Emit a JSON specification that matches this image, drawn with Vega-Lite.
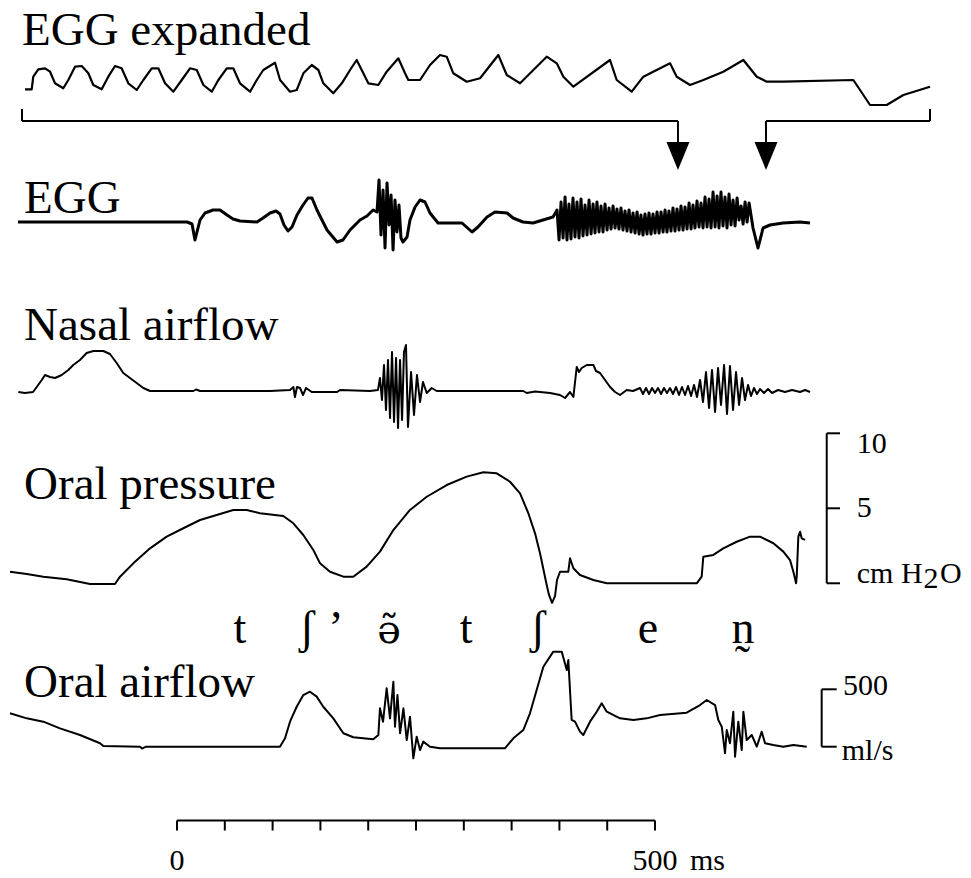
{
"$schema": "https://vega.github.io/schema/vega-lite/v6.json",
"width": 971, "height": 878,
"autosize": {"type": "fit", "contains": "padding"},
"padding": 0,
"background": "white",
"config": {"view": {"stroke": null}, "text": {"font": "Liberation Serif", "color": "black", "baseline": "alphabetic"}, "line": {"color": "black", "strokeJoin": "round"}, "rule": {"color": "black", "strokeWidth": 2}},
"datasets": {
"egge_line": [{"t":524.3,"v":-0.93},{"t":524.98,"v":-0.93},{"t":525.14,"v":0.33},{"t":525.65,"v":1.07},{"t":526.33,"v":1.17},{"t":526.84,"v":0.83},{"t":527.34,"v":-0.33},{"t":528.18,"v":-0.83},{"t":528.69,"v":0},{"t":529.37,"v":1.33},{"t":530.05,"v":1.4},{"t":530.72,"v":0.67},{"t":531.22,"v":-0.5},{"t":532.07,"v":-0.93},{"t":532.74,"v":0.33},{"t":533.42,"v":1.4},{"t":534.09,"v":1.17},{"t":534.77,"v":-0.33},{"t":535.62,"v":-1.0},{"t":536.29,"v":0},{"t":537.14,"v":1.17},{"t":537.81,"v":1.17},{"t":538.49,"v":-0.33},{"t":539.33,"v":-1.17},{"t":540.18,"v":0},{"t":541.02,"v":1.17},{"t":541.7,"v":1.0},{"t":542.37,"v":-0.5},{"t":543.22,"v":-1.17},{"t":543.89,"v":0},{"t":544.74,"v":1.17},{"t":545.4,"v":1.17},{"t":546.08,"v":-0.33},{"t":547.1,"v":-1.17},{"t":547.78,"v":0},{"t":548.44,"v":1.0},{"t":549.63,"v":1.73},{"t":550.14,"v":0},{"t":551.15,"v":-1.17},{"t":551.83,"v":-1.0},{"t":552.5,"v":0.67},{"t":553.35,"v":1.5},{"t":554.02,"v":1.0},{"t":554.52,"v":-0.33},{"t":555.53,"v":-1.33},{"t":556.39,"v":-0.33},{"t":557.23,"v":1.0},{"t":557.9,"v":2.0},{"t":558.41,"v":1.0},{"t":559.08,"v":-0.33},{"t":560.09,"v":-0.5},{"t":560.94,"v":0.83},{"t":562.12,"v":2.17},{"t":562.8,"v":0.67},{"t":563.13,"v":0},{"t":564.32,"v":0},{"t":565.33,"v":1.5},{"t":566.34,"v":2.5},{"t":567.02,"v":2.33},{"t":567.69,"v":0.67},{"t":569.05,"v":-0.17},{"t":570.4,"v":0.17},{"t":572.25,"v":2.5},{"t":573.1,"v":0.5},{"t":574.45,"v":-0.33},{"t":577.15,"v":2.33},{"t":578.17,"v":1.67},{"t":578.84,"v":0.33},{"t":579.85,"v":-0.67},{"t":583.56,"v":2.0},{"t":584.24,"v":0},{"t":585.76,"v":-1.17},{"t":586.94,"v":0.33},{"t":589.64,"v":1.67},{"t":590.32,"v":0.33},{"t":591.67,"v":-0.5},{"t":593.02,"v":0},{"t":595.04,"v":0.83},{"t":597.07,"v":2.0},{"t":598.43,"v":0.33},{"t":599.44,"v":-0.17},{"t":601.12,"v":-0.17},{"t":608.21,"v":0},{"t":608.89,"v":-1.0},{"t":609.9,"v":-2.5},{"t":611.59,"v":-2.5},{"t":613.28,"v":-1.5},{"t":615.98,"v":-0.67}],
"egge_text": [{"t":524.0,"v":3.5,"label":"EGG expanded"}],
"egg_line": [{"t":-166.3,"v":0},{"t":10.5,"v":0},{"t":15.7,"v":-0.2},{"t":18.8,"v":-1.8},{"t":20.9,"v":-1.0},{"t":24.1,"v":0.2},{"t":29.3,"v":0.9},{"t":37.7,"v":1.2},{"t":45.0,"v":1.2},{"t":52.3,"v":0.7},{"t":58.6,"v":0.3},{"t":65.9,"v":0.1},{"t":83.7,"v":0},{"t":90.0,"v":0.4},{"t":97.3,"v":0.9},{"t":103.6,"v":1.1},{"t":107.7,"v":0.8},{"t":111.9,"v":-0.3},{"t":116.1,"v":-0.9},{"t":120.3,"v":-0.5},{"t":125.5,"v":0.7},{"t":131.8,"v":1.7},{"t":137.0,"v":2.4},{"t":141.2,"v":2.4},{"t":146.4,"v":1.2},{"t":156.9,"v":-0.8},{"t":167.4,"v":-2.0},{"t":173.6,"v":-1.8},{"t":181.0,"v":-0.8},{"t":191.4,"v":0.2},{"t":198.7,"v":0.6},{"t":205.1,"v":1.2},{"t":209.2,"v":1.0},{"t":211.3,"v":4.2},{"t":213.4,"v":-1.3},{"t":215.5,"v":3.2},{"t":217.6,"v":-2.6},{"t":219.7,"v":3.9},{"t":221.8,"v":-0.3},{"t":223.9,"v":2.7},{"t":226.0,"v":-2.8},{"t":228.0,"v":2.2},{"t":230.1,"v":-1.0},{"t":232.2,"v":1.7},{"t":234.3,"v":-1.6},{"t":236.4,"v":-2.0},{"t":240.6,"v":-1.5},{"t":243.7,"v":0.2},{"t":249.0,"v":1.5},{"t":254.2,"v":2.2},{"t":259.4,"v":2.0},{"t":264.6,"v":0.9},{"t":273.0,"v":-0.1},{"t":285.6,"v":-0.1},{"t":298.1,"v":-0.1},{"t":308.6,"v":-1.0},{"t":314.8,"v":-0.5},{"t":324.3,"v":0.5},{"t":332.6,"v":1.0},{"t":345.2,"v":0.9},{"t":351.5,"v":0.4},{"t":361.9,"v":0},{"t":372.4,"v":-0.1},{"t":382.8,"v":0.2},{"t":393.3,"v":0.5},{"t":397.5,"v":1.2},{"t":399.6,"v":-1.8},{"t":401.7,"v":2.0},{"t":403.8,"v":-1.6},{"t":405.9,"v":2.5},{"t":407.9,"v":-1.8},{"t":410.0,"v":1.8},{"t":412.1,"v":-1.7},{"t":414.2,"v":2.4},{"t":416.3,"v":-1.5},{"t":418.4,"v":2.0},{"t":420.5,"v":-1.6},{"t":422.6,"v":2.3},{"t":424.7,"v":-1.4},{"t":426.8,"v":1.7},{"t":428.9,"v":-1.3},{"t":431.0,"v":2.2},{"t":433.1,"v":-1.2},{"t":435.2,"v":1.8},{"t":437.2,"v":-1.1},{"t":439.3,"v":2.0},{"t":441.4,"v":-1.0},{"t":443.5,"v":1.6},{"t":445.6,"v":-1.0},{"t":447.7,"v":1.8},{"t":449.8,"v":-0.8},{"t":451.9,"v":1.4},{"t":454.0,"v":-0.7},{"t":456.1,"v":1.6},{"t":458.2,"v":-0.6},{"t":460.2,"v":1.3},{"t":462.3,"v":-0.7},{"t":464.4,"v":1.4},{"t":466.5,"v":-0.8},{"t":468.6,"v":1.1},{"t":470.7,"v":-0.9},{"t":472.8,"v":1.2},{"t":474.9,"v":-1.0},{"t":477.0,"v":0.9},{"t":479.1,"v":-1.1},{"t":481.2,"v":1.0},{"t":483.3,"v":-1.2},{"t":485.3,"v":0.7},{"t":487.4,"v":-1.3},{"t":489.5,"v":0.8},{"t":491.6,"v":-1.2},{"t":493.7,"v":0.9},{"t":495.8,"v":-1.2},{"t":497.9,"v":0.8},{"t":500.0,"v":-1.1},{"t":502.1,"v":1.0},{"t":504.2,"v":-1.1},{"t":506.3,"v":1.0},{"t":508.4,"v":-1.0},{"t":510.5,"v":1.2},{"t":512.5,"v":-1.0},{"t":514.6,"v":1.1},{"t":516.7,"v":-0.9},{"t":518.8,"v":1.4},{"t":520.9,"v":-0.9},{"t":523.0,"v":1.3},{"t":525.1,"v":-0.8},{"t":527.2,"v":1.6},{"t":529.3,"v":-0.8},{"t":531.4,"v":1.5},{"t":533.5,"v":-0.7},{"t":535.6,"v":1.9},{"t":537.7,"v":-0.7},{"t":539.7,"v":1.7},{"t":541.8,"v":-0.6},{"t":543.9,"v":2.1},{"t":546.0,"v":-0.5},{"t":548.1,"v":1.9},{"t":550.2,"v":-0.6},{"t":552.3,"v":2.5},{"t":554.4,"v":-0.5},{"t":556.5,"v":2.3},{"t":558.6,"v":-0.6},{"t":560.7,"v":3.0},{"t":562.8,"v":-0.5},{"t":564.9,"v":2.6},{"t":566.9,"v":-0.6},{"t":569.0,"v":3.0},{"t":571.1,"v":-0.4},{"t":573.2,"v":2.5},{"t":575.3,"v":-0.6},{"t":577.4,"v":2.8},{"t":579.5,"v":-0.3},{"t":581.6,"v":2.2},{"t":583.7,"v":-0.4},{"t":585.8,"v":2.4},{"t":587.9,"v":0.2},{"t":590.0,"v":1.6},{"t":592.1,"v":-0.2},{"t":594.2,"v":2.0},{"t":596.3,"v":0.0},{"t":598.4,"v":1.9},{"t":602.5,"v":-0.6},{"t":607.7,"v":-2.6},{"t":613.0,"v":-0.6},{"t":620.3,"v":-0.3},{"t":633.9,"v":-0.1},{"t":651.7,"v":0},{"t":662.1,"v":-0.1}],
"egg_text": [{"t":-160,"v":0.9,"label":"EGG"}],
"bracket": [{"t":-162.1,"v":10.1,"t2":524.0,"v2":10.1},{"t":616.1,"v":10.1,"t2":787.6,"v2":10.1},{"t":-162.1,"v":10.1,"t2":-162.1,"v2":11.3},{"t":787.6,"v":10.1,"t2":787.6,"v2":11.3},{"t":524.0,"v":10.1,"t2":524.0,"v2":7.9},{"t":616.1,"v":10.1,"t2":616.1,"v2":7.9}],
"arrows": [{"t":524.0,"v":6.6},{"t":616.1,"v":6.6}],
"nasal_line": [{"t":-166.0,"v":-0.1},{"t":-159.0,"v":-0.2},{"t":-150.6,"v":-0.1},{"t":-146.7,"v":0.4},{"t":-141.5,"v":1.1},{"t":-138.1,"v":1.6},{"t":-132.8,"v":1.4},{"t":-127.6,"v":1.3},{"t":-120.6,"v":1.6},{"t":-113.7,"v":2.1},{"t":-108.5,"v":2.6},{"t":-101.5,"v":3.1},{"t":-94.5,"v":3.8},{"t":-87.5,"v":4.0},{"t":-77.1,"v":4.0},{"t":-70.1,"v":3.7},{"t":-63.1,"v":2.8},{"t":-56.2,"v":1.8},{"t":-49.2,"v":1.3},{"t":-42.2,"v":0.8},{"t":-35.2,"v":0.3},{"t":-28.2,"v":0.0},{"t":17.1,"v":0},{"t":19.9,"v":0.15},{"t":24.1,"v":0},{"t":97.3,"v":0},{"t":118.2,"v":0.1},{"t":121.7,"v":0.4},{"t":123.4,"v":-0.6},{"t":125.5,"v":0.4},{"t":128.7,"v":0.3},{"t":131.8,"v":-0.4},{"t":135.0,"v":0.3},{"t":140.9,"v":-0.1},{"t":167.4,"v":-0.1},{"t":170.5,"v":0.1},{"t":201.9,"v":0},{"t":210.2,"v":0.1},{"t":212.3,"v":1.3},{"t":214.4,"v":-0.9},{"t":216.5,"v":2.6},{"t":218.6,"v":-1.9},{"t":220.7,"v":3.1},{"t":222.8,"v":-2.7},{"t":224.9,"v":3.9},{"t":227.0,"v":-3.1},{"t":229.1,"v":3.3},{"t":231.2,"v":-3.7},{"t":233.3,"v":3.1},{"t":235.4,"v":-2.9},{"t":237.4,"v":3.9},{"t":239.5,"v":4.6},{"t":241.6,"v":-3.6},{"t":244.8,"v":1.9},{"t":247.9,"v":-2.4},{"t":251.0,"v":1.6},{"t":254.2,"v":-1.1},{"t":257.3,"v":0.9},{"t":261.2,"v":-0.2},{"t":266.4,"v":0.3},{"t":271.7,"v":0},{"t":278.5,"v":0},{"t":362.2,"v":0},{"t":365.8,"v":-0.2},{"t":374.5,"v":-0.05},{"t":390.2,"v":-0.2},{"t":400.6,"v":-0.4},{"t":405.9,"v":-0.7},{"t":411.1,"v":-0.1},{"t":414.6,"v":-0.6},{"t":418.1,"v":2.4},{"t":420.5,"v":1.9},{"t":423.3,"v":2.3},{"t":428.6,"v":2.6},{"t":435.5,"v":2.6},{"t":438.3,"v":2.0},{"t":442.5,"v":1.8},{"t":447.7,"v":1.1},{"t":453.0,"v":0.4},{"t":458.2,"v":-0.1},{"t":463.4,"v":-0.4},{"t":470.4,"v":0.1},{"t":477.0,"v":0},{"t":484.3,"v":0.3},{"t":487.4,"v":-0.3},{"t":490.6,"v":0.3},{"t":493.7,"v":-0.3},{"t":496.9,"v":0.3},{"t":500.0,"v":-0.2},{"t":503.1,"v":0.3},{"t":506.3,"v":-0.3},{"t":509.4,"v":0.3},{"t":512.5,"v":-0.2},{"t":515.7,"v":0.3},{"t":518.8,"v":-0.3},{"t":522.0,"v":0.4},{"t":525.1,"v":-0.4},{"t":528.2,"v":0.4},{"t":531.4,"v":-0.4},{"t":534.5,"v":0.5},{"t":537.7,"v":-0.5},{"t":540.8,"v":0.6},{"t":543.9,"v":-0.6},{"t":547.1,"v":1.1},{"t":550.2,"v":-1.1},{"t":553.3,"v":1.9},{"t":556.5,"v":-1.7},{"t":559.6,"v":2.1},{"t":562.8,"v":-2.1},{"t":565.9,"v":2.3},{"t":569.0,"v":-1.4},{"t":572.2,"v":2.6},{"t":575.3,"v":-2.3},{"t":578.4,"v":2.5},{"t":581.6,"v":-1.9},{"t":584.7,"v":1.9},{"t":587.9,"v":-1.4},{"t":591.0,"v":1.3},{"t":594.1,"v":-0.9},{"t":597.3,"v":0.6},{"t":600.4,"v":-0.5},{"t":603.5,"v":0.3},{"t":606.7,"v":-0.3},{"t":609.8,"v":0.2},{"t":614.0,"v":-0.2},{"t":618.2,"v":0.2},{"t":622.4,"v":-0.2},{"t":628.7,"v":0.1},{"t":636.0,"v":-0.1},{"t":643.3,"v":0.1},{"t":651.7,"v":-0.1},{"t":656.9,"v":0.1},{"t":662.1,"v":-0.1}],
"nasal_text": [{"t":-160,"v":5.1,"label":"Nasal airflow"}],
"pres_line": [{"t":-174.7,"v":0.77},{"t":-157.2,"v":0.62},{"t":-139.8,"v":0.44},{"t":-115.4,"v":0.27},{"t":-91.0,"v":-0.05},{"t":-64.9,"v":-0.05},{"t":-59.6,"v":0.44},{"t":-45.7,"v":1.33},{"t":-28.2,"v":2.33},{"t":-10.8,"v":3.11},{"t":6.6,"v":3.67},{"t":24.1,"v":4.22},{"t":41.5,"v":4.55},{"t":58.9,"v":4.89},{"t":72.9,"v":4.89},{"t":86.8,"v":4.67},{"t":111.2,"v":4.49},{"t":121.7,"v":4.0},{"t":132.1,"v":3.22},{"t":142.6,"v":2.22},{"t":149.6,"v":1.33},{"t":160.0,"v":0.77},{"t":174.0,"v":0.44},{"t":184.4,"v":0.44},{"t":198.4,"v":1.11},{"t":212.3,"v":2.11},{"t":226.3,"v":3.55},{"t":243.7,"v":4.89},{"t":261.2,"v":5.77},{"t":282.1,"v":6.55},{"t":303.0,"v":7.11},{"t":320.4,"v":7.4},{"t":334.4,"v":7.33},{"t":348.3,"v":6.77},{"t":358.8,"v":6.0},{"t":367.5,"v":4.67},{"t":374.5,"v":3.33},{"t":379.7,"v":2.0},{"t":386.7,"v":-0.11},{"t":389.1,"v":-0.78},{"t":392.3,"v":-1.31},{"t":395.4,"v":-0.85},{"t":397.5,"v":0.22},{"t":400.6,"v":0.77},{"t":409.3,"v":0.77},{"t":411.1,"v":1.67},{"t":414.6,"v":1.0},{"t":421.5,"v":0.55},{"t":435.5,"v":0.22},{"t":449.5,"v":0},{"t":470.4,"v":0},{"t":505.2,"v":0},{"t":543.6,"v":0},{"t":548.8,"v":0.44},{"t":550.5,"v":1.77},{"t":561.0,"v":1.89},{"t":571.4,"v":2.33},{"t":585.4,"v":2.77},{"t":599.4,"v":3.11},{"t":609.8,"v":3.11},{"t":623.8,"v":2.67},{"t":634.2,"v":2.11},{"t":641.2,"v":1.55},{"t":644.7,"v":0.77},{"t":647.5,"v":0},{"t":648.2,"v":0.44},{"t":649.9,"v":3.11},{"t":651.7,"v":3.44},{"t":653.4,"v":3.0},{"t":656.9,"v":2.89}],
"pres_text": [{"t":-160,"v":5.6,"label":"Oral pressure"}],
"pres_scale": [{"t":679.6,"v":0,"t2":679.6,"v2":10},{"t":679.6,"v":10,"t2":693.5,"v2":10},{"t":679.6,"v":5,"t2":693.5,"v2":5},{"t":679.6,"v":0,"t2":693.5,"v2":0}],
"pres_scale_text": [{"t":711.0,"v":8.69,"label":"10"},{"t":711.0,"v":4.42,"label":"5"},{"t":711.0,"v":0,"label":"cm H"},{"t":780.8,"v":-0.3,"label":"2"},{"t":798.1,"v":0,"label":"O"}],
"phon_text": [{"t":65.9,"v":-3.98,"label":"t"},{"t":136.0,"v":-3.98,"label":"ʃ"},{"t":166.3,"v":-3.98,"label":"’"},{"t":302.3,"v":-3.98,"label":"t"},{"t":377.6,"v":-3.98,"label":"ʃ"},{"t":492.7,"v":-3.98,"label":"e"},{"t":592.0,"v":-3.98,"label":"n̰"}],
"phon_schwa": [{"t":221.8,"v":-3.98,"label":"ə̃"}],
"air_line": [{"t":-174.7,"v":291},{"t":-157.2,"v":247},{"t":-139.8,"v":218},{"t":-122.4,"v":160},{"t":-101.5,"v":102},{"t":-80.5,"v":30},{"t":-77.1,"v":6},{"t":-38.7,"v":0},{"t":-36.6,"v":-16},{"t":-32.4,"v":0},{"t":107.7,"v":0},{"t":113.0,"v":73},{"t":118.2,"v":218},{"t":125.2,"v":348},{"t":132.1,"v":450},{"t":139.1,"v":479},{"t":146.1,"v":436},{"t":153.0,"v":348},{"t":163.5,"v":247},{"t":174.0,"v":117},{"t":184.4,"v":82},{"t":205.3,"v":64},{"t":210.6,"v":102},{"t":212.3,"v":334},{"t":215.5,"v":218},{"t":219.3,"v":509},{"t":222.8,"v":247},{"t":226.3,"v":566},{"t":228.0,"v":174},{"t":230.6,"v":450},{"t":233.3,"v":117},{"t":236.8,"v":334},{"t":240.3,"v":58},{"t":243.7,"v":261},{"t":247.2,"v":-101},{"t":250.7,"v":87},{"t":254.2,"v":-29},{"t":257.6,"v":44},{"t":264.6,"v":0},{"t":275.1,"v":-14},{"t":316.9,"v":-14},{"t":343.0,"v":-14},{"t":351.8,"v":73},{"t":362.2,"v":145},{"t":369.2,"v":291},{"t":376.2,"v":494},{"t":383.2,"v":697},{"t":393.6,"v":828},{"t":402.4,"v":828},{"t":407.7,"v":668},{"t":409.3,"v":755},{"t":412.8,"v":233},{"t":416.3,"v":218},{"t":421.5,"v":131},{"t":425.0,"v":102},{"t":432.0,"v":218},{"t":439.0,"v":305},{"t":444.2,"v":378},{"t":449.5,"v":305},{"t":463.4,"v":247},{"t":477.3,"v":233},{"t":491.3,"v":247},{"t":505.2,"v":276},{"t":533.1,"v":296},{"t":547.1,"v":363},{"t":554.1,"v":407},{"t":562.8,"v":363},{"t":566.2,"v":233},{"t":569.8,"v":174},{"t":573.2,"v":-57},{"t":575.0,"v":145},{"t":578.4,"v":30},{"t":581.9,"v":305},{"t":583.7,"v":-87},{"t":587.1,"v":218},{"t":590.7,"v":-29},{"t":592.4,"v":305},{"t":595.9,"v":58},{"t":601.2,"v":102},{"t":606.4,"v":0},{"t":611.6,"v":131},{"t":615.1,"v":30},{"t":623.7,"v":15},{"t":634.2,"v":0},{"t":644.7,"v":15},{"t":658.7,"v":0}],
"air_text": [{"t":-160,"v":435.6,"label":"Oral airflow"}],
"air_scale": [{"t":674.3,"v":0,"t2":674.3,"v2":500},{"t":674.3,"v":500,"t2":690.0,"v2":500},{"t":674.3,"v":0,"t2":690.0,"v2":0}],
"air_scale_text": [{"t":696.6,"v":450,"label":"500"},{"t":695.3,"v":-116,"label":"ml/s"}],
"time_bar": [{"t":0,"v":-642.9,"t2":500,"v2":-642.9},{"t":0,"v":-642.9,"t2":0,"v2":-730},{"t":50,"v":-642.9,"t2":50,"v2":-730},{"t":100,"v":-642.9,"t2":100,"v2":-730},{"t":150,"v":-642.9,"t2":150,"v2":-730},{"t":200,"v":-642.9,"t2":200,"v2":-730},{"t":250,"v":-642.9,"t2":250,"v2":-730},{"t":300,"v":-642.9,"t2":300,"v2":-730},{"t":350,"v":-642.9,"t2":350,"v2":-730},{"t":400,"v":-642.9,"t2":400,"v2":-730},{"t":450,"v":-642.9,"t2":450,"v2":-730},{"t":500,"v":-642.9,"t2":500,"v2":-730}],
"time_text": [{"t":0,"v":-1074,"label":"0"},{"t":500,"v":-1074,"label":"500"}],
"time_unit": [{"t":536.6,"v":-1074,"label":"ms"}]
},
"layer": [
{
"encoding": {"x": {"field": "t", "type": "quantitative", "axis": null, "scale": {"domain": [521.77, 620.13], "nice": false, "zero": false}}, "y": {"field": "v", "type": "quantitative", "axis": null, "scale": {"domain": [-79.8, 8.0], "nice": false, "zero": false}}},
"layer": [
{"data": {"name": "egge_line"}, "mark": {"type": "line", "strokeWidth": 2.2}},
{"data": {"name": "egge_text"}, "mark": {"type": "text", "align": "left", "baseline": "alphabetic", "fontSize": 47}, "encoding": {"text": {"field": "label"}}}
]
},
{
"encoding": {"x": {"field": "t", "type": "quantitative", "axis": null, "scale": {"domain": [-185.14, 830.5], "nice": false, "zero": false}}, "y": {"field": "v", "type": "quantitative", "axis": null, "scale": {"domain": [-65.6, 22.2], "nice": false, "zero": false}}},
"layer": [
{"data": {"name": "egg_line"}, "mark": {"type": "line", "strokeWidth": 3}},
{"data": {"name": "egg_text"}, "mark": {"type": "text", "align": "left", "baseline": "alphabetic", "fontSize": 47}, "encoding": {"text": {"field": "label"}}},
{"data": {"name": "bracket"}, "mark": {"type": "rule"}, "encoding": {"x2": {"field": "t2"}, "y2": {"field": "v2"}}},
{"data": {"name": "arrows"}, "mark": {"type": "point", "shape": "M-0.82,-1L0.82,-1L0,1Z", "filled": true, "size": 784, "color": "black", "opacity": 1}}
]
},
{
"encoding": {"x": {"field": "t", "type": "quantitative", "axis": null, "scale": {"domain": [-185.14, 830.5], "nice": false, "zero": false}}, "y": {"field": "v", "type": "quantitative", "axis": null, "scale": {"domain": [-48.7, 39.1], "nice": false, "zero": false}}},
"layer": [
{"data": {"name": "nasal_line"}, "mark": {"type": "line", "strokeWidth": 2}},
{"data": {"name": "nasal_text"}, "mark": {"type": "text", "align": "left", "baseline": "alphabetic", "fontSize": 47}, "encoding": {"text": {"field": "label"}}}
]
},
{
"encoding": {"x": {"field": "t", "type": "quantitative", "axis": null, "scale": {"domain": [-185.14, 830.5], "nice": false, "zero": false}}, "y": {"field": "v", "type": "quantitative", "axis": null, "scale": {"domain": [-19.65, 38.89], "nice": false, "zero": false}}},
"layer": [
{"data": {"name": "pres_line"}, "mark": {"type": "line", "strokeWidth": 2}},
{"data": {"name": "pres_text"}, "mark": {"type": "text", "align": "left", "baseline": "alphabetic", "fontSize": 47}, "encoding": {"text": {"field": "label"}}},
{"data": {"name": "pres_scale"}, "mark": {"type": "rule"}, "encoding": {"x2": {"field": "t2"}, "y2": {"field": "v2"}}},
{"data": {"name": "pres_scale_text"}, "mark": {"type": "text", "align": "left", "baseline": "alphabetic", "fontSize": 30}, "encoding": {"text": {"field": "label"}}},
{"data": {"name": "phon_text"}, "mark": {"type": "text", "align": "center", "baseline": "alphabetic", "fontSize": 46}, "encoding": {"text": {"field": "label"}}},
{"data": {"name": "phon_schwa"}, "mark": {"type": "text", "align": "center", "baseline": "alphabetic", "fontSize": 40, "font": "DejaVu Serif"}, "encoding": {"text": {"field": "label"}}}
]
},
{
"encoding": {"x": {"field": "t", "type": "quantitative", "axis": null, "scale": {"domain": [-185.14, 830.5], "nice": false, "zero": false}}, "y": {"field": "v", "type": "quantitative", "axis": null, "scale": {"domain": [-1143.7, 6504.4], "nice": false, "zero": false}}},
"layer": [
{"data": {"name": "air_line"}, "mark": {"type": "line", "strokeWidth": 2}},
{"data": {"name": "air_text"}, "mark": {"type": "text", "align": "left", "baseline": "alphabetic", "fontSize": 47}, "encoding": {"text": {"field": "label"}}},
{"data": {"name": "air_scale"}, "mark": {"type": "rule"}, "encoding": {"x2": {"field": "t2"}, "y2": {"field": "v2"}}},
{"data": {"name": "air_scale_text"}, "mark": {"type": "text", "align": "left", "baseline": "alphabetic", "fontSize": 30}, "encoding": {"text": {"field": "label"}}},
{"data": {"name": "time_bar"}, "mark": {"type": "rule"}, "encoding": {"x2": {"field": "t2"}, "y2": {"field": "v2"}}},
{"data": {"name": "time_text"}, "mark": {"type": "text", "align": "center", "baseline": "alphabetic", "fontSize": 30}, "encoding": {"text": {"field": "label"}}},
{"data": {"name": "time_unit"}, "mark": {"type": "text", "align": "left", "baseline": "alphabetic", "fontSize": 30}, "encoding": {"text": {"field": "label"}}}
]
}
],
"resolve": {"scale": {"x": "independent", "y": "independent"}}
}
